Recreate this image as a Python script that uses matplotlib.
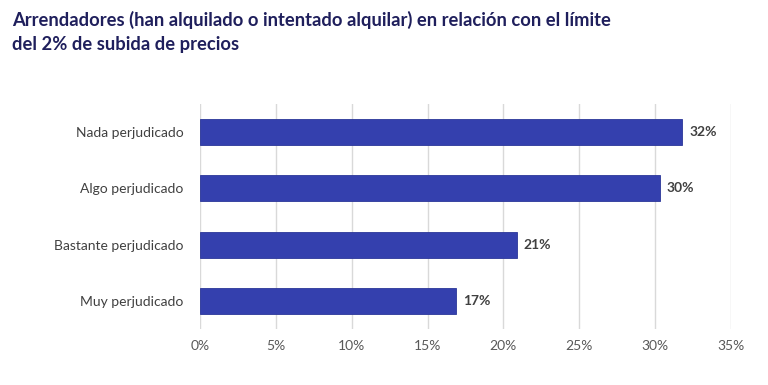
import matplotlib
matplotlib.use("Agg")
import matplotlib.pyplot as plt

categories = ["Muy perjudicado", "Bastante perjudicado", "Algo perjudicado", "Nada perjudicado"]
values = [16.9, 20.9, 30.3, 31.8]
labels = ["17%", "21%", "30%", "32%"]
xticks = [0, 5, 10, 15, 20, 25, 30, 35]
xticklabels = ["0%", "5%", "10%", "15%", "20%", "25%", "30%", "35%"]
title = "Arrendadores (han alquilado o intentado alquilar) en relación con el límite\ndel 2% de subida de precios"

plt.rcParams['font.family'] = ['Lato', 'DejaVu Sans']

fig = plt.figure(figsize=(7.68, 3.85), dpi=100)
ax = fig.add_axes([0.2604, 0.1455, 0.6914, 0.5844])

ypos = list(range(len(categories)))
ax.barh(ypos, values, height=0.46, color="#3440AE", edgecolor="#2B3699", linewidth=0.6, zorder=3)
for y, v, l in zip(ypos, values, labels):
    ax.text(v + 0.45, y, l, va="center", ha="left", fontsize=10, fontweight="bold", color="#404040")

ax.set_xlim(0, 35)
ax.set_ylim(-0.5, len(categories) - 0.5)
ax.set_xticks(xticks)
ax.set_xticklabels(xticklabels, fontsize=10, color="#595959")
ax.set_yticks(ypos)
ax.set_yticklabels(categories, fontsize=10, color="#404040")
ax.tick_params(axis="both", length=0, pad=8)
ax.tick_params(axis="y", pad=12)
ax.grid(axis="x", color="#D9D9D9", linewidth=1, zorder=0)
for s in ax.spines.values():
    s.set_visible(False)

fig.text(0.016, 0.972, title, ha="left", va="top", fontsize=13.2, fontweight="bold",
         color="#1F1F5C", linespacing=1.5)

fig.savefig("out.png", dpi=100, facecolor="white")
